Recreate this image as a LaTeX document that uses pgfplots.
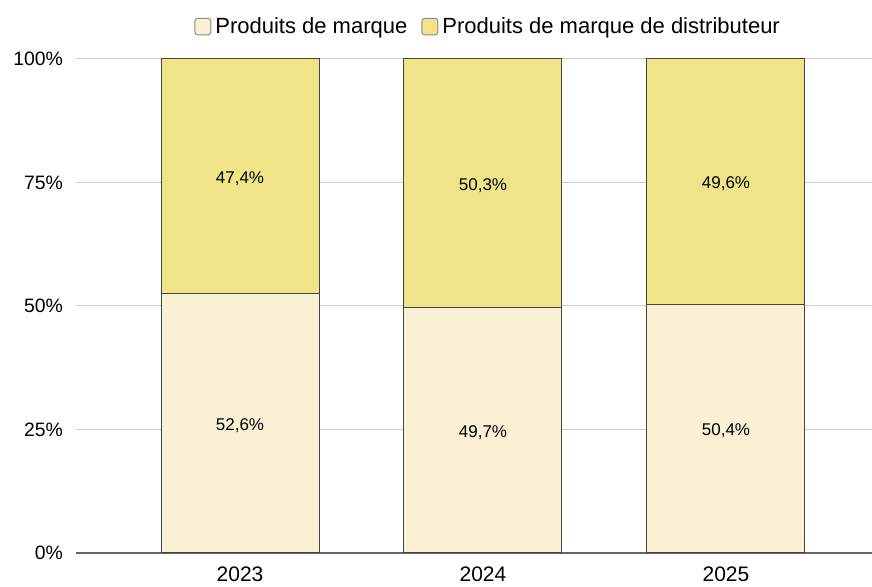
\documentclass[border=0pt]{standalone}
\usepackage{fontspec}
\setmainfont{Liberation Sans}
\usepackage{pgfplots}
\pgfplotsset{compat=1.18}
\definecolor{marque}{HTML}{FAF0D4}
\definecolor{mdd}{HTML}{F0E488}
\definecolor{barline}{HTML}{444444}
\begin{document}
\begin{tikzpicture}
\begin{axis}[
    scale only axis,
    width=398pt, height=247pt,
    ybar stacked,
    bar width=79pt,
    xmin=-0.675, xmax=2.601,
    ymin=0, ymax=100,
    xtick={0,1,2},
    xticklabels={2023,2024,2025},
    ytick={0,25,50,75,100},
    yticklabel={\pgfmathprintnumber{\tick}\%},
    /pgf/number format/assume math mode=true,
    major tick length=0pt,
    axis x line*=bottom,
    axis y line*=left,
    y axis line style={draw=none},
    x axis line style={draw=black!60, line width=0.6pt},
    ymajorgrids,
    grid style={draw=black!20, line width=0.5pt},
    yticklabel style={font=\fontsize{9.7}{11}\selectfont, xshift=-3pt},
    xticklabel style={font=\fontsize{10.5}{12}\selectfont, yshift=-3.5pt},
    visualization depends on=rawy \as \rawy,
    nodes near coords={\pgfmathprintnumber[fixed, fixed zerofill, precision=1, use comma]{\rawy}\%},
    every node near coord/.append style={font=\fontsize{8.5}{10}\selectfont, anchor=center, yshift=-1.2pt},
    legend style={at={(0.519,1.065)}, anchor=center, draw=none, fill=none,
        legend columns=-1, font=\fontsize{11}{13}\selectfont,
        /tikz/every even column/.append style={column sep=5pt}},
    legend image code/.code={
        \draw[#1, draw=black!45, rounded corners=1.5pt] (0pt,-4pt) rectangle (8pt,4.3pt);},
]
\addplot[fill=marque, draw=barline, line width=0.5pt] coordinates {(0,52.6) (1,49.7) (2,50.4)};
\addplot[fill=mdd, draw=barline, line width=0.5pt] coordinates {(0,47.4) (1,50.3) (2,49.6)};
\legend{Produits de marque, Produits de marque de distributeur}
\end{axis}
\pgfresetboundingbox
\path (-38pt,-17pt) rectangle (398pt,276.5pt);
\end{tikzpicture}
\end{document}
